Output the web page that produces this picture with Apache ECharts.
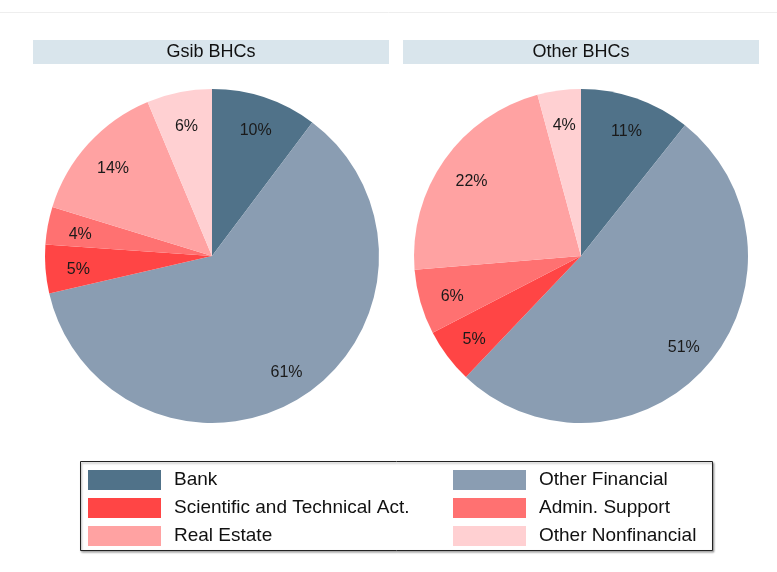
<!DOCTYPE html>
<html>
<head>
<meta charset="utf-8">
<script src="https://cdn.jsdelivr.net/npm/echarts@6/dist/echarts.min.js"></script>
<style>html,body{margin:0;padding:0;background:#fff;}#c{width:777px;height:572px;}</style>
</head>
<body>
<div id="c"></div>
<script>
const categories = ['Bank', 'Other Financial', 'Scientific and Technical Act.', 'Admin. Support', 'Real Estate', 'Other Nonfinancial'];
const gsibValues = [10.25, 61.15, 4.7, 3.65, 13.95, 6.3];
const otherValues = [10.7, 51.4, 5.3, 6.3, 22.1, 4.2];
const panelTitles = ['Gsib BHCs', 'Other BHCs'];
const colors = ['#507289', '#8a9db2', '#ff4545', '#ff7171', '#ffa2a2', '#ffd0d2'];

const FONT = 'Liberation Sans, Arial, sans-serif';
const R = 167;
const centers = [[212, 256], [581, 256]];

function pieData(vals) {
  return categories.map((n, i) => ({ name: n, value: vals[i], itemStyle: { color: colors[i] } }));
}
function labelData(vals) {
  return categories.map((n, i) => ({ name: n, value: vals[i] }));
}

const series = [];
[gsibValues, otherValues].forEach((vals, k) => {
  series.push({
    type: 'pie', center: centers[k], radius: [0, R], startAngle: 90, clockwise: true,
    label: { show: false }, labelLine: { show: false }, silent: true, animation: false,
    itemStyle: { borderWidth: 0 },
    data: pieData(vals)
  });
});
[gsibValues, otherValues].forEach((vals, k) => {
  series.push({
    type: 'pie', center: centers[k], radius: [97, R], startAngle: 90, clockwise: true,
    silent: true, animation: false, z: 5,
    itemStyle: { color: 'rgba(0,0,0,0)', borderWidth: 0 },
    label: {
      show: true, position: 'inside', color: '#1a1a1a', fontFamily: FONT, fontSize: 16,
      offset: [1, 3],
      formatter: p => Math.round(p.value) + '%'
    },
    labelLine: { show: false },
    data: labelData(vals)
  });
});

function legendCol(names, left) {
  return {
    orient: 'vertical', left: left, top: 470, padding: 0,
    itemWidth: 73, itemHeight: 20, itemGap: 8, selectedMode: false,
    icon: 'rect',
    textStyle: { fontFamily: FONT, fontSize: 19, color: '#111', padding: [0, 0, 0, 8] },
    data: names.map(n => ({ name: n, itemStyle: { color: colors[categories.indexOf(n)] } }))
  };
}

const graphic = [
  { type: 'line', shape: { x1: 0, y1: 12.5, x2: 777, y2: 12.5 }, style: { stroke: '#eeeeee', lineWidth: 1 } },
  { type: 'rect', shape: { x: 80.5, y: 461.5, width: 632, height: 89 },
    style: { fill: '#fff', stroke: '#222', lineWidth: 1, shadowBlur: 2, shadowOffsetX: 1, shadowOffsetY: 1.5, shadowColor: 'rgba(0,0,0,0.35)' }, z: -1 }
];
panelTitles.forEach((t, k) => {
  const x0 = k === 0 ? 33 : 403;
  graphic.push({ type: 'rect', shape: { x: x0, y: 40, width: 356, height: 24 }, style: { fill: '#d9e5ec' } });
  graphic.push({ type: 'text', x: x0 + 178, y: 52,
    style: { text: t, fill: '#111', font: '18px ' + FONT, textAlign: 'center', textVerticalAlign: 'middle' } });
});

const chart = echarts.init(document.getElementById('c'), null, { renderer: 'canvas' });
chart.setOption({
  animation: false,
  backgroundColor: '#fff',
  legend: [
    legendCol([categories[0], categories[2], categories[4]], 88),
    legendCol([categories[1], categories[3], categories[5]], 453)
  ],
  graphic: graphic,
  series: series
});
</script>
</body>
</html>
